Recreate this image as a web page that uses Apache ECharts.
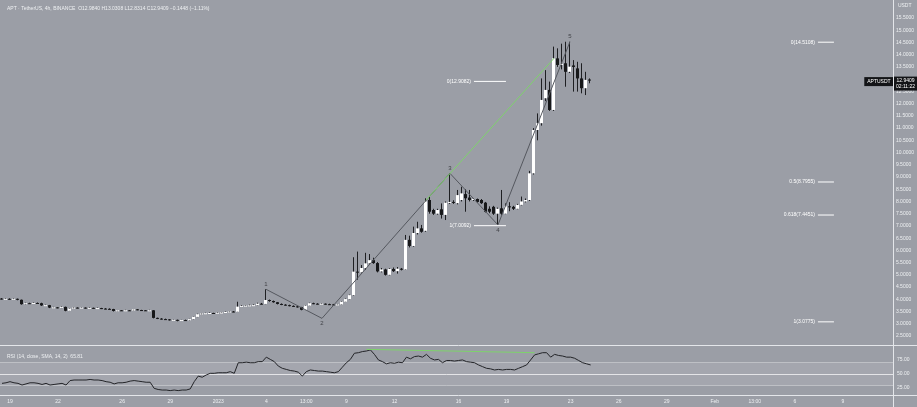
<!DOCTYPE html>
<html><head><meta charset="utf-8">
<script src="https://cdn.jsdelivr.net/npm/echarts@6/dist/echarts.min.js"></script>
<style>html,body{margin:0;padding:0;background:#9b9ea6;}#c{width:917px;height:407px;}</style>
</head><body><div id="c"></div>
<script>
// ---- data (6h candles, APT/USDT) ----
const opens=[4.03,4.01,4.02,4.00,4.02,3.98,3.80,3.84,3.83,3.85,
3.84,3.75,3.76,3.66,3.67,3.65,3.69,3.53,3.62,3.66,
3.65,3.66,3.64,3.65,3.63,3.64,3.62,3.61,3.60,3.52,
3.55,3.54,3.55,3.54,3.59,3.56,3.55,3.54,3.55,3.24,
3.21,3.19,3.18,3.15,3.16,3.13,3.15,3.14,3.19,3.28,
3.39,3.42,3.43,3.44,3.43,3.45,3.46,3.48,3.50,3.49,
3.70,3.73,3.74,3.75,3.76,3.82,3.81,3.97,3.93,3.88,
3.81,3.78,3.76,3.73,3.71,3.68,3.57,3.74,3.84,3.82,
3.81,3.82,3.80,3.79,3.78,3.79,3.90,4.01,4.17,5.13,
5.10,5.28,5.47,5.60,5.48,5.14,5.22,5.00,5.24,5.15,
5.25,5.22,6.43,6.18,6.71,6.90,6.80,8.06,7.65,7.50,
7.68,7.45,7.95,7.98,7.93,8.06,8.30,8.16,8.06,8.10,
8.06,7.95,7.70,7.78,7.50,7.72,7.50,7.80,7.78,7.70,
7.86,8.00,8.06,9.15,10.92,11.20,12.22,12.56,11.74,13.85,
13.58,13.65,13.30,13.56,13.44,13.03,12.63,12.984];
const closes=[4.01,4.02,4.00,4.02,3.98,3.80,3.84,3.83,3.85,3.84,
3.75,3.76,3.66,3.67,3.65,3.69,3.53,3.62,3.66,3.65,
3.66,3.64,3.65,3.63,3.64,3.62,3.61,3.60,3.52,3.55,
3.54,3.55,3.54,3.59,3.56,3.55,3.54,3.55,3.24,3.21,
3.19,3.18,3.15,3.16,3.13,3.15,3.14,3.19,3.28,3.39,
3.42,3.43,3.44,3.43,3.45,3.46,3.48,3.50,3.49,3.70,
3.73,3.74,3.75,3.76,3.82,3.81,3.97,3.93,3.88,3.81,
3.78,3.76,3.73,3.71,3.68,3.57,3.74,3.84,3.82,3.81,
3.82,3.80,3.79,3.78,3.79,3.90,4.01,4.17,5.13,5.10,
5.28,5.47,5.60,5.48,5.14,5.22,5.00,5.24,5.15,5.25,
5.22,6.43,6.18,6.71,6.90,6.76,8.00,7.58,7.50,7.65,
7.45,7.95,7.98,7.95,8.26,8.33,8.13,8.06,8.10,7.98,
7.93,7.58,7.58,7.50,7.70,7.50,7.80,7.76,7.70,7.86,
8.00,8.06,9.15,10.92,11.20,12.15,12.56,11.74,13.85,13.58,
13.62,13.30,13.51,13.50,13.03,12.63,12.97,12.9409];
const lows=[3.99,3.99,3.98,3.98,3.96,3.78,3.79,3.81,3.82,3.82,
3.73,3.73,3.64,3.64,3.63,3.64,3.51,3.52,3.61,3.63,
3.64,3.62,3.63,3.61,3.62,3.60,3.59,3.58,3.50,3.51,
3.52,3.53,3.52,3.53,3.55,3.53,3.52,3.52,3.22,3.19,
3.17,3.16,3.13,3.12,3.10,3.11,3.12,3.13,3.18,3.27,
3.37,3.41,3.42,3.41,3.42,3.44,3.45,3.46,3.47,3.48,
3.69,3.71,3.72,3.73,3.75,3.79,3.80,3.90,3.86,3.79,
3.76,3.74,3.71,3.69,3.66,3.55,3.56,3.73,3.80,3.79,
3.79,3.78,3.77,3.76,3.76,3.78,3.89,4.00,4.15,4.80,
5.05,5.20,5.42,5.45,5.10,5.10,4.97,4.98,5.12,5.05,
5.18,5.20,6.12,6.15,6.65,6.72,6.76,7.50,7.45,7.46,
7.30,7.24,7.90,7.90,7.88,8.00,7.58,8.00,8.02,7.95,
7.90,7.55,7.52,7.45,7.04,7.45,7.48,7.60,7.65,7.68,
7.84,7.96,8.02,9.10,10.50,11.10,12.10,11.70,11.70,13.50,
13.40,12.69,13.25,12.49,12.49,12.42,12.35,12.8314];
const highs=[4.05,4.04,4.04,4.04,4.03,3.99,3.86,3.86,3.87,3.87,
3.86,3.78,3.77,3.69,3.68,3.71,3.70,3.64,3.68,3.67,
3.68,3.67,3.67,3.66,3.66,3.65,3.64,3.63,3.61,3.56,
3.56,3.57,3.56,3.60,3.60,3.57,3.56,3.57,3.56,3.25,
3.23,3.21,3.19,3.17,3.17,3.16,3.17,3.20,3.29,3.41,
3.44,3.45,3.46,3.45,3.47,3.48,3.50,3.52,3.52,3.90,
3.76,3.76,3.78,3.79,3.86,3.85,4.41,3.99,3.95,3.89,
3.83,3.80,3.78,3.75,3.73,3.69,3.76,3.86,3.86,3.84,
3.84,3.83,3.82,3.81,3.81,3.92,4.03,4.19,5.72,5.95,
5.40,5.90,5.85,5.70,5.52,5.28,5.25,5.27,5.30,5.32,
5.28,6.63,6.60,6.97,7.17,7.04,8.13,8.20,7.70,7.70,
7.92,8.00,9.15,8.05,8.47,8.60,8.50,8.47,8.14,8.12,
8.10,7.98,7.80,7.82,7.75,8.47,7.92,7.97,7.82,7.90,
8.20,8.12,9.25,11.00,11.60,13.03,13.37,12.90,14.33,14.26,
14.45,14.53,14.53,13.78,13.71,13.65,13.30,13.0308];
const rsi=[33,34,36,34,33,30,32,34,34,33,
31,33,30,31,32,33,30,38,39,39,
39,39,40,39,39,38,36,35,32,34,
34,35,37,38,37,36,35,35,24,22,
21,21,20,21,20,21,21,23,36,46,
44,48,51,51,52,52,52,54,51,70,
70,71,70,70,72,72,80,76,72,64,
60,58,56,55,53,46,54,57,56,55,
55,54,53,52,54,62,70,76,87,88,
90,91,93,85,75,72,68,70,69,71,
70,80,77,81,82,80,85,78,75,76,
70,74,74,73,74,75,72,71,70,66,
63,60,59,57,58,57,58,58,57,60,
63,66,75,84,86,88,88,80,85,83,
82,80,80,78,74,70,68,66];
const tickDates=['2022-12-19 00:00','2022-12-22 00:00','2022-12-26 00:00','2022-12-29 00:00','2023-01-01 00:00','2023-01-04 00:00','2023-01-06 12:00','2023-01-09 00:00','2023-01-12 00:00','2023-01-16 00:00','2023-01-19 00:00','2023-01-23 00:00','2023-01-26 00:00','2023-01-29 00:00','2023-02-01 00:00','2023-02-03 12:00','2023-02-06 00:00','2023-02-09 00:00'];
const tickLabels=['19','22','26','29','2023','4','13:00','9','12','16','19','23','26','29','Feb','13:00','6','9'];
const priceTicks=[2.5,3,3.5,4,4.5,5,5.5,6,6.5,7,7.5,8,8.5,9,9.5,10,10.5,11,11.5,12,12.5,13,13.5,14,14.5,15,15.5];
const rsiTicks=[25,50,75];
// Elliott wave points
const waveNames=['1','2','3','4','5'];
const waveIdx=[66,80,112,124,142];
const wavePrice=[4.41,3.22,9.15,7.04,14.53];
// trend lines
const priceTrend=[[106,8.05],[138,13.85]];
const rsiTrend=[[91,94],[133,88]];
// fibonacci levels
const fibRightNames=['0','0.5','0.618','1'];
const fibRightLevels=[14.5108,8.7955,7.4451,3.0775];
const fibLeftNames=['0','1'];
const fibLeftLevels=[12.9082,7.0092];
const fibRightSpan=[204,208];
const fibLeftSpan=[118,126];
const countdown='02:11:22';

// ---- time axis slots (6h) ----
const slotCount=223;
const startT=Date.UTC(2022,11,18,12);
const pad=n=>String(n).padStart(2,'0');
const fmt=t=>{const d=new Date(t);return d.getUTCFullYear()+'-'+pad(d.getUTCMonth()+1)+'-'+pad(d.getUTCDate())+' '+pad(d.getUTCHours())+':00';};
const categories=[];
for(let k=0;k<slotCount;k++)categories.push(fmt(startT+k*6*3600e3));
const labelMap={};tickDates.forEach((d,k)=>labelMap[d]=tickLabels[k]);

const FONT='Liberation Sans';
const TXT='#eef0f2';
const candleData=opens.map((o,k)=>[k,o,closes[k],lows[k],highs[k]]);
const last=closes.length-1;

const fibSeries=[];
function addFib(levels,names,span){
  levels.forEach((v,k)=>{
    fibSeries.push({type:'line',xAxisIndex:0,yAxisIndex:0,symbol:'none',silent:true,
      data:[[span[0],v],[span[1],v]],lineStyle:{color:'#ffffff',width:1},z:5,
      markPoint:{symbol:'circle',symbolSize:0,silent:true,data:[{coord:[span[0],v],
        label:{show:true,position:'left',distance:3,formatter:names[k]+'('+v.toFixed(4)+')',color:'#ffffff',fontSize:5,fontFamily:FONT}}]}});
  });
}
addFib(fibRightLevels,fibRightNames,fibRightSpan);
addFib(fibLeftLevels,fibLeftNames,fibLeftSpan);

const chart=echarts.init(document.getElementById('c'),null,{renderer:'canvas'});
chart.setOption({
  backgroundColor:'#9b9ea6',
  animation:false,
  textStyle:{fontFamily:FONT},
  title:[
    {left:2,top:1,text:'APT · TetherUS, 4h, BINANCE  O12.9840 H13.0308 L12.8314 C12.9409 −0.1448 (−1.11%)',
     textStyle:{fontSize:5,color:TXT,fontWeight:'normal',fontFamily:FONT}},
    {left:2,top:349,text:'RSI (14, close, SMA, 14, 2)  65.81',
     textStyle:{fontSize:5,color:TXT,fontWeight:'normal',fontFamily:FONT}}
  ],
  grid:[
    {left:0,right:24,top:5.77,height:342.44},
    {left:0,right:24,top:346,height:55.75},
    {left:0,right:24,top:395,height:1}
  ],
  xAxis:[
    {type:'category',gridIndex:0,data:categories,boundaryGap:true,axisLine:{show:false},axisTick:{show:false},axisLabel:{show:false},splitLine:{show:false}},
    {type:'category',gridIndex:1,data:categories,boundaryGap:true,axisLine:{show:false},axisTick:{show:false},axisLabel:{show:false},splitLine:{show:false}},
    {type:'category',gridIndex:2,data:categories,boundaryGap:true,axisLine:{show:false},axisTick:{show:false},splitLine:{show:false},
     axisLabel:{show:true,interval:(i,v)=>labelMap[v]!==undefined,formatter:v=>labelMap[v]||'',color:TXT,fontSize:5,margin:3,fontFamily:FONT}}
  ],
  yAxis:[
    {type:'value',gridIndex:0,position:'right',min:2,max:16,interval:0.5,
     name:'USDT',nameLocation:'end',nameGap:-2,nameTextStyle:{fontSize:5,color:TXT,align:'left',padding:[0,0,0,6],fontFamily:FONT},
     axisLine:{show:false},axisTick:{show:false},splitLine:{show:false},
     axisLabel:{color:TXT,fontSize:5,margin:4,fontFamily:FONT,formatter:v=>priceTicks.indexOf(v)>=0?v.toFixed(4):''}},
    {type:'value',gridIndex:1,position:'right',min:0,max:100,interval:25,
     axisLine:{show:false},axisTick:{show:false},splitLine:{show:false},
     axisLabel:{color:TXT,fontSize:5,margin:4,fontFamily:FONT,formatter:v=>rsiTicks.indexOf(v)>=0?v.toFixed(2):''}},
    {type:'value',gridIndex:2,show:false}
  ],
  graphic:[
    {type:'line',silent:true,shape:{x1:893.5,y1:0,x2:893.5,y2:407},style:{stroke:'#e4e6ea',lineWidth:1},z:100},
    {type:'line',silent:true,shape:{x1:0,y1:345.5,x2:917,y2:345.5},style:{stroke:'#e4e6ea',lineWidth:1},z:100},
    {type:'line',silent:true,shape:{x1:0,y1:395.5,x2:917,y2:395.5},style:{stroke:'#e4e6ea',lineWidth:1},z:100}
  ],
  series:[
    {type:'custom',name:'APTUSDT',xAxisIndex:0,yAxisIndex:0,data:candleData,encode:{x:0,y:[1,2,3,4]},z:3,
     renderItem:function(params,api){
       const k=api.value(0),o=api.value(1),c=api.value(2),l=api.value(3),h=api.value(4);
       const po=api.coord([k,o]),pc=api.coord([k,c]),pl=api.coord([k,l]),ph=api.coord([k,h]);
       const bw=Math.max(1,api.size([1,0])[0]*0.75);
       const xc=Math.floor(po[0])+0.5;
       const up=c>=o;
       const top=Math.min(po[1],pc[1]);
       const bh=Math.max(1,Math.abs(po[1]-pc[1]));
       return {type:'group',children:[
         {type:'line',shape:{x1:xc,y1:ph[1],x2:xc,y2:pl[1]},style:{stroke:'#1e1f22',lineWidth:1}},
         {type:'rect',shape:{x:xc-bw/2,y:top,width:bw,height:bh},style:{fill:up?'#ffffff':'#17181a',stroke:null}}
       ]};
     }},
    {type:'line',name:'waves',xAxisIndex:0,yAxisIndex:0,symbol:'none',silent:true,z:4,
     data:waveIdx.map((x,k)=>[x,wavePrice[k]]),lineStyle:{color:'#55585f',width:1}},
    {type:'scatter',name:'waveLabels',xAxisIndex:0,yAxisIndex:0,symbolSize:0,silent:true,z:6,
     data:waveIdx.map((x,k)=>({value:[x,wavePrice[k]],label:{position:k%2===0?'top':'bottom'}})),
     label:{show:true,distance:2,formatter:p=>waveNames[p.dataIndex],color:'#2b2c30',fontSize:6,fontFamily:FONT}},
    {type:'line',name:'trend',xAxisIndex:0,yAxisIndex:0,symbol:'none',silent:true,z:4,
     data:priceTrend,lineStyle:{color:'#7ed36b',width:1}},
    ...fibSeries,
    {type:'scatter',name:'lastPrice',xAxisIndex:0,yAxisIndex:0,symbolSize:0,silent:true,z:30,
     data:[[last,closes[last]]],
     markPoint:{symbol:'rect',symbolSize:0,silent:true,z:30,
       data:[
        {coord:[last,closes[last]],x:'98.75%',label:{show:true,position:'inside',offset:[0,3],
          formatter:closes[last].toFixed(4)+'\n'+countdown,
          backgroundColor:'#131417',color:'#ffffff',fontSize:5,lineHeight:6,padding:[1,2,1,2],fontFamily:FONT}},
        {coord:[last,closes[last]],x:'95.85%',label:{show:true,position:'inside',offset:[0,1],formatter:'APTUSDT',
          backgroundColor:'#131417',color:'#ffffff',fontSize:5,padding:[2,3,2,3],fontFamily:FONT}}
       ]}},
    {type:'line',name:'RSI',xAxisIndex:1,yAxisIndex:1,symbol:'none',silent:true,z:5,
     data:rsi,lineStyle:{color:'#232428',width:1},
     markArea:{silent:true,itemStyle:{color:'rgba(255,255,255,0.09)'},data:[[{yAxis:70},{yAxis:30}]]},
     markLine:{symbol:'none',silent:true,label:{show:false},
       data:[{yAxis:70,lineStyle:{color:'rgba(255,255,255,0.35)',width:1,type:'solid'}},
             {yAxis:50,lineStyle:{color:'rgba(255,255,255,0.7)',width:1,type:'solid'}},
             {yAxis:30,lineStyle:{color:'rgba(255,255,255,0.35)',width:1,type:'solid'}}]}},
    {type:'line',name:'rsiTrend',xAxisIndex:1,yAxisIndex:1,symbol:'none',silent:true,z:6,
     data:rsiTrend,lineStyle:{color:'#7ed36b',width:1}}
  ]
});
</script></body></html>
